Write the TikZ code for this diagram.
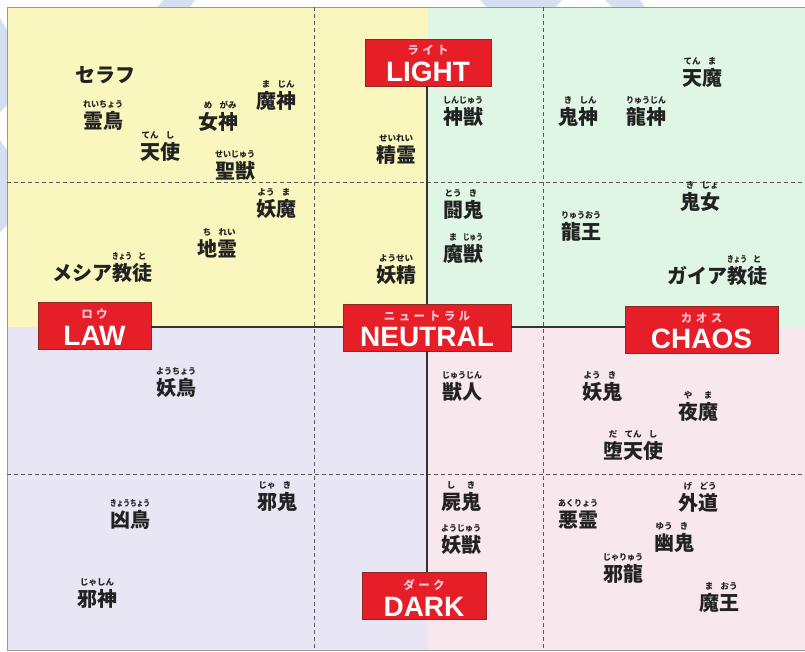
\documentclass[tikz,border=0pt]{standalone}
\usepackage{fontspec}
\usepackage{graphicx}
\usetikzlibrary{calc}
\setmainfont{Liberation Sans}
\newfontfamily\jp{Noto Sans CJK JP}
\definecolor{qyellow}{HTML}{FAF7BE}
\definecolor{qgreen}{HTML}{E0F6E4}
\definecolor{qlav}{HTML}{E8E6F4}
\definecolor{qpink}{HTML}{F8E8EE}
\definecolor{boxred}{HTML}{E61E28}
\definecolor{boxedge}{HTML}{8A2A20}
\definecolor{kanapink}{HTML}{FFC4CE}
\definecolor{ink}{HTML}{222222}
\definecolor{scanblue}{HTML}{D6DFF1}
\newdimen\rbw \newdimen\rbh
\newsavebox\rbbase \newsavebox\rbtop
\newcommand\rb[2]{{\sbox\rbbase{#1}\sbox\rbtop{\jp\bfseries\fontsize{8.5}{8.5}\selectfont #2}%
  \rbw=\wd\rbbase \rbh=\ht\rbtop
  \ifdim\wd\rbtop>\rbw \sbox\rbtop{\resizebox{\rbw}{\rbh}{\usebox\rbtop}}\fi
  \rlap{\raisebox{21pt}[0pt][0pt]{\makebox[\rbw][c]{\usebox\rbtop}}}\usebox\rbbase}}
\newcommand\kgap{\hspace{3.5pt}}
\tikzset{
  ent/.style={font=\jp\bfseries\fontsize{20}{20}\selectfont, text=ink, inner sep=0pt},
  axisbox/.style={fill=boxred, draw=boxedge, line width=0.7pt, minimum height=47pt, inner sep=0pt},
  kanalbl/.style={font=\jp\bfseries\fontsize{11.5}{11.5}\selectfont, text=kanapink, inner sep=0pt},
  biglbl/.style={font=\bfseries\fontsize{28}{28}\selectfont, text=white, inner sep=0pt},
  grid/.style={draw=black!65, line width=0.7pt, dash pattern=on 4pt off 3pt},
  axisline/.style={draw=black!80, line width=1.3pt}
}
\begin{document}
\begin{tikzpicture}[x=1pt,y=-1pt]
\useasboundingbox (0,0) rectangle (805,651);
\fill[white] (0,0) rectangle (805,651);
% faint scan artifacts in the margins
\fill[scanblue] (163,0) -- (195,0) -- (190,7) -- (158,7) -- cycle;
\fill[scanblue] (480,0) -- (562,0) -- (556,7) -- (486,7) -- cycle;
\fill[scanblue] (605,0) -- (640,0) -- (645,7) -- (612,7) -- cycle;
\fill[scanblue] (0,18) -- (7,30) -- (7,105) -- (0,112) -- cycle;
\fill[scanblue] (0,140) -- (7,150) -- (7,225) -- (0,232) -- cycle;
% quadrants
\fill[qyellow] (7,7) rectangle (428,327);
\fill[qgreen] (428,7) rectangle (805,327);
\fill[qlav] (7,327) rectangle (428,650);
\fill[qpink] (428,327) rectangle (805,650);
\draw[black!40, line width=0.6pt] (805,7) -- (7,7) -- (7,650) -- (805,650);
% dashed grid
\draw[grid] (314,7) -- (314,650);
\draw[grid] (543,7) -- (543,650);
\draw[grid] (7,182) -- (805,182);
\draw[grid] (7,474) -- (805,474);
% axis boxes
\node[axisbox, minimum width=126pt] (light) at (428,62.5) {};
\node[axisbox, minimum width=113pt] (law) at (94.5,326) {};
\node[axisbox, minimum width=168pt] (neutral) at (427,327.5) {};
\node[axisbox, minimum width=153pt] (chaos) at (701.5,330) {};
\node[axisbox, minimum width=124pt] (dark) at (424,595.5) {};
% axis lines
\draw[axisline] (light.south -| neutral.north) -- (neutral.north);
\draw[axisline] (neutral.south) -- (neutral.south |- dark.north);
\draw[axisline] (law.east |- 0,327) -- (neutral.west |- 0,327);
\draw[axisline] (neutral.east |- 0,327) -- (chaos.west |- 0,327);
% box labels
\node[kanalbl] (lightk) at ($(light.north)+(0,11)$) {ラ\kgap イ\kgap ト};
\node[biglbl] (lightt) at ($(light.north)+(0,33)$) {LIGHT};
\node[kanalbl] (lawk) at ($(law.north)+(0,12)$) {ロ\kgap ウ};
\node[biglbl] (lawt) at ($(law.north)+(0,34)$) {LAW};
\node[kanalbl] (neutralk) at ($(neutral.north)+(0,13)$) {ニ\kgap ュ\kgap ー\kgap ト\kgap ラ\kgap ル};
\node[biglbl] (neutralt) at ($(neutral.north)+(0,33)$) {NEUTRAL};
\node[kanalbl] (chaosk) at ($(chaos.north)+(0,12)$) {カ\kgap オ\kgap ス};
\node[biglbl] (chaost) at ($(chaos.north)+(0,33)$) {CHAOS};
\node[kanalbl] (darkk) at ($(dark.north)+(0,13)$) {ダ\kgap ー\kgap ク};
\node[biglbl] (darkt) at ($(dark.north)+(0,35)$) {DARK};
% top-left
\node[ent] (e1) at (105,75) {セラフ};
\node[ent] (e2) at (103,121) {\rb{霊鳥}{れいちょう}};
\node[ent] (e3) at (218,122) {\rb{女}{め}\rb{神}{がみ}};
\node[ent] (e4) at (276,101) {\rb{魔}{ま}\rb{神}{じん}};
\node[ent] (e5) at (160,152) {\rb{天}{てん}\rb{使}{し}};
\node[ent] (e6) at (235,171) {\rb{聖獣}{せいじゅう}};
\node[ent] (e7) at (396,155) {\rb{精霊}{せいれい}};
\node[ent] (e8) at (276,209) {\rb{妖}{よう}\rb{魔}{ま}};
\node[ent] (e9) at (217,249) {\rb{地}{ち}\rb{霊}{れい}};
\node[ent] (e10) at (102,273) {メシア\rb{教}{きょう}\rb{徒}{と}};
\node[ent] (e11) at (396,275) {\rb{妖精}{ようせい}};
% top-right
\node[ent] (e12) at (463,117) {\rb{神獣}{しんじゅう}};
\node[ent] (e13) at (578,117) {\rb{鬼}{き}\rb{神}{しん}};
\node[ent] (e14) at (646,117) {\rb{龍神}{りゅうじん}};
\node[ent] (e15) at (702,78) {\rb{天}{てん}\rb{魔}{ま}};
\node[ent] (e16) at (463,210) {\rb{闘}{とう}\rb{鬼}{き}};
\node[ent] (e17) at (463,254) {\rb{魔}{ま}\rb{獣}{じゅう}};
\node[ent] (e18) at (581,232) {\rb{龍王}{りゅうおう}};
\node[ent] (e19) at (700,202) {\rb{鬼}{き}\rb{女}{じょ}};
\node[ent] (e20) at (717,276) {ガイア\rb{教}{きょう}\rb{徒}{と}};
% bottom-left
\node[ent] (e21) at (176,388) {\rb{妖鳥}{ようちょう}};
\node[ent] (e22) at (277,502) {\rb{邪}{じゃ}\rb{鬼}{き}};
\node[ent] (e23) at (130,520) {\rb{凶鳥}{きょうちょう}};
\node[ent] (e24) at (97,599) {\rb{邪神}{じゃしん}};
% bottom-right
\node[ent] (e25) at (462,392) {\rb{獣人}{じゅうじん}};
\node[ent] (e26) at (602,392) {\rb{妖}{よう}\rb{鬼}{き}};
\node[ent] (e27) at (698,412) {\rb{夜}{や}\rb{魔}{ま}};
\node[ent] (e28) at (633,451) {\rb{堕}{だ}\rb{天}{てん}\rb{使}{し}};
\node[ent] (e29) at (461,502) {\rb{屍}{し}\rb{鬼}{き}};
\node[ent] (e30) at (698,503) {\rb{外}{げ}\rb{道}{どう}};
\node[ent] (e31) at (578,520) {\rb{悪霊}{あくりょう}};
\node[ent] (e32) at (674,543) {\rb{幽}{ゆう}\rb{鬼}{き}};
\node[ent] (e33) at (461,545) {\rb{妖獣}{ようじゅう}};
\node[ent] (e34) at (623,574) {\rb{邪龍}{じゃりゅう}};
\node[ent] (e35) at (719,603) {\rb{魔}{ま}\rb{王}{おう}};
\end{tikzpicture}
\end{document}
